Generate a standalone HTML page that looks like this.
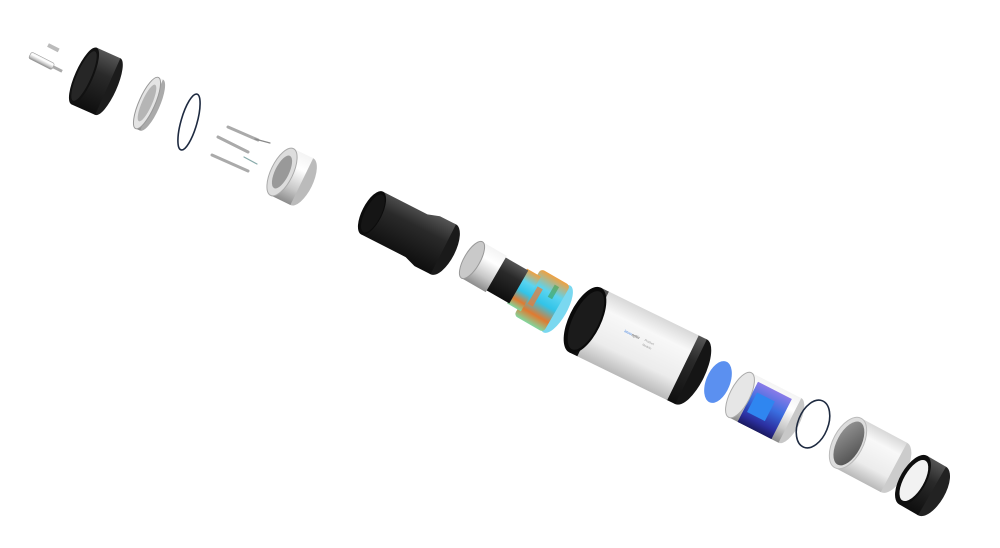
<!DOCTYPE html>
<html><head><meta charset="utf-8"><style>
html,body{margin:0;padding:0;background:#fff;}
svg{display:block;}
</style></head><body>
<svg width="1000" height="548" viewBox="0 0 1000 548" xmlns="http://www.w3.org/2000/svg">
<defs>
<linearGradient id="blk" x1="0" y1="0" x2="0" y2="1"><stop offset="0" stop-color="#555"/><stop offset="0.35" stop-color="#2a2a2a"/><stop offset="1" stop-color="#0e0e0e"/></linearGradient>
<linearGradient id="sil" x1="0" y1="0" x2="0" y2="1"><stop offset="0" stop-color="#f4f4f4"/><stop offset="0.3" stop-color="#ffffff"/><stop offset="0.7" stop-color="#c8c8c8"/><stop offset="1" stop-color="#8c8c8c"/></linearGradient>
<linearGradient id="wht" x1="0" y1="0" x2="0" y2="1"><stop offset="0" stop-color="#d8d8d8"/><stop offset="0.25" stop-color="#f8f8f8"/><stop offset="0.7" stop-color="#ececec"/><stop offset="1" stop-color="#b9b9b9"/></linearGradient>
<linearGradient id="blu" x1="0" y1="0" x2="0" y2="1"><stop offset="0" stop-color="#8a7be8"/><stop offset="0.4" stop-color="#3a6ee0"/><stop offset="0.8" stop-color="#2b2fa0"/><stop offset="1" stop-color="#1a1a60"/></linearGradient>
<linearGradient id="col" x1="0" y1="0" x2="0" y2="1"><stop offset="0" stop-color="#f0a040"/><stop offset="0.3" stop-color="#5ad4f0"/><stop offset="0.55" stop-color="#32c4e8"/><stop offset="0.8" stop-color="#e07a30"/><stop offset="1" stop-color="#80d8a0"/></linearGradient>
<linearGradient id="gry" x1="0" y1="0" x2="1" y2="1"><stop offset="0" stop-color="#9a9a9a"/><stop offset="1" stop-color="#4a4a4a"/></linearGradient>
</defs>

<g transform="translate(30,55) rotate(27)">
  <rect x="0" y="-3.5" width="26" height="7" rx="2" fill="url(#sil)" stroke="#999" stroke-width="0.6"/>
  <rect x="26" y="-1.5" width="10" height="3" fill="#aaa"/>
</g>
<g transform="translate(48,45) rotate(27)"><rect x="0" y="-2" width="12" height="4" fill="#bbb"/></g>

<g transform="translate(84,76) rotate(24)">
  <ellipse cx="26" cy="0" rx="9" ry="31" fill="#1c1c1c"/>
  <rect x="0" y="-31" width="26" height="62" fill="url(#blk)"/>
  <ellipse cx="0" cy="0" rx="9" ry="31" fill="#111"/>
  <ellipse cx="0" cy="0" rx="7" ry="27" fill="#262626"/>
</g>

<g transform="translate(147,103) rotate(24)">
  <ellipse cx="5" cy="0" rx="8" ry="28" fill="#aaa"/>
  <rect x="0" y="-28" width="5" height="56" fill="url(#sil)"/>
  <ellipse cx="0" cy="0" rx="8" ry="28" fill="#e4e4e4" stroke="#999" stroke-width="1"/>
  <ellipse cx="0" cy="0" rx="5" ry="20" fill="#b5b5b5"/>
</g>

<ellipse cx="189" cy="122" rx="8" ry="29" transform="rotate(16 189 122)" fill="none" stroke="#1e2a40" stroke-width="1.6"/>

<g stroke-linecap="round">
  <line x1="228" y1="127" x2="258" y2="140" stroke="#aaa" stroke-width="3"/>
  <line x1="255" y1="139" x2="270" y2="143" stroke="#888" stroke-width="1.2"/>
  <line x1="218" y1="137" x2="248" y2="152" stroke="#aaa" stroke-width="3"/>
  <line x1="212" y1="155" x2="248" y2="171" stroke="#aaa" stroke-width="3"/>
  <line x1="244" y1="157" x2="257" y2="164" stroke="#8aa" stroke-width="1.2"/>
</g>

<g transform="translate(282,172) rotate(26)">
  <ellipse cx="22" cy="0" rx="11" ry="26" fill="#bbb"/>
  <rect x="0" y="-26" width="22" height="52" fill="url(#sil)"/>
  <ellipse cx="0" cy="0" rx="11" ry="26" fill="#ddd" stroke="#aaa" stroke-width="1"/>
  <ellipse cx="0" cy="0" rx="7" ry="18" fill="#999"/>
</g>

<g transform="translate(372,213) rotate(27)">
  <ellipse cx="80" cy="0" rx="12" ry="28" fill="#1a1a1a"/>
  <path d="M0,-24 L50,-24 L62,-28 L80,-28 L80,28 L62,28 L50,24 L0,24 Z" fill="url(#blk)"/>
  <ellipse cx="0" cy="0" rx="10" ry="24" fill="#0c0c0c"/>
  <ellipse cx="1" cy="0" rx="8" ry="21" fill="#151515"/>
</g>

<g transform="translate(472,260) rotate(30)">
  <ellipse cx="98" cy="0" rx="10" ry="27" fill="#7ad8f0"/>
  <rect x="64" y="-27" width="34" height="54" rx="4" fill="url(#col)"/>
  <rect x="52" y="-20" width="16" height="40" fill="url(#col)"/>
  <rect x="26" y="-19" width="28" height="38" fill="url(#blk)"/>
  <rect x="0" y="-21" width="28" height="42" fill="url(#sil)"/>
  <ellipse cx="0" cy="0" rx="8" ry="21" fill="#c9c9c9" stroke="#999" stroke-width="1"/>
  <rect x="70" y="-10" width="6" height="20" fill="#f07830" opacity="0.7"/>
  <rect x="84" y="-20" width="5" height="14" fill="#40a050" opacity="0.6"/>
</g>

<g transform="translate(585,320) rotate(26)">
  <ellipse cx="118" cy="0" rx="14" ry="36" fill="#151515"/>
  <rect x="108" y="-36" width="10" height="72" fill="url(#blk)"/>
  <rect x="8" y="-36" width="101" height="72" fill="url(#wht)"/>
  <rect x="0" y="-36" width="9" height="72" fill="url(#blk)"/>
  <ellipse cx="0" cy="0" rx="16" ry="36" fill="#0a0a0a"/>
  <ellipse cx="1" cy="0" rx="13" ry="32" fill="#1b1b1b"/>
</g>
<g transform="translate(624,332) rotate(26)" font-family="Liberation Sans, sans-serif" font-size="4">
  <text x="0" y="0" fill="#3c7ee0">imxx<tspan fill="#555">optic</tspan></text>
  <text x="22" y="-1" fill="#999" font-size="3">Product</text>
  <text x="22" y="4" fill="#999" font-size="3">Module</text>
</g>

<ellipse cx="718" cy="382" rx="12" ry="22" transform="rotate(22 718 382)" fill="#5b90f0"/>

<g transform="translate(740,395) rotate(27)">
  <ellipse cx="56" cy="0" rx="10" ry="25" fill="#c8c8c8"/>
  <rect x="0" y="-25" width="56" height="50" fill="url(#sil)"/>
  <rect x="10" y="-20" width="38" height="45" fill="url(#blu)"/>
  <rect x="14" y="-10" width="20" height="22" fill="#2f86f0"/>
  <ellipse cx="0" cy="0" rx="10" ry="25" fill="#e6e6e6" stroke="#aaa" stroke-width="1"/>
</g>

<ellipse cx="813" cy="424" rx="15" ry="25" transform="rotate(22 813 424)" fill="none" stroke="#1e2a40" stroke-width="1.6"/>

<g transform="translate(848,443) rotate(28)">
  <ellipse cx="52" cy="0" rx="13" ry="28" fill="#ccc"/>
  <rect x="0" y="-28" width="52" height="56" fill="url(#wht)"/>
  <ellipse cx="0" cy="0" rx="15" ry="28" fill="#ddd" stroke="#bbb" stroke-width="1"/>
  <ellipse cx="1" cy="0" rx="12" ry="24" fill="url(#gry)"/>
</g>

<g transform="translate(913,480) rotate(30)">
  <ellipse cx="22" cy="0" rx="13" ry="28" fill="#222"/>
  <rect x="0" y="-28" width="22" height="56" fill="url(#blk)"/>
  <ellipse cx="0" cy="0" rx="13" ry="28" fill="#0e0e0e"/>
  <ellipse cx="1" cy="0" rx="10" ry="23" fill="#f2f2f2"/>
</g>
</svg>
</body></html>
